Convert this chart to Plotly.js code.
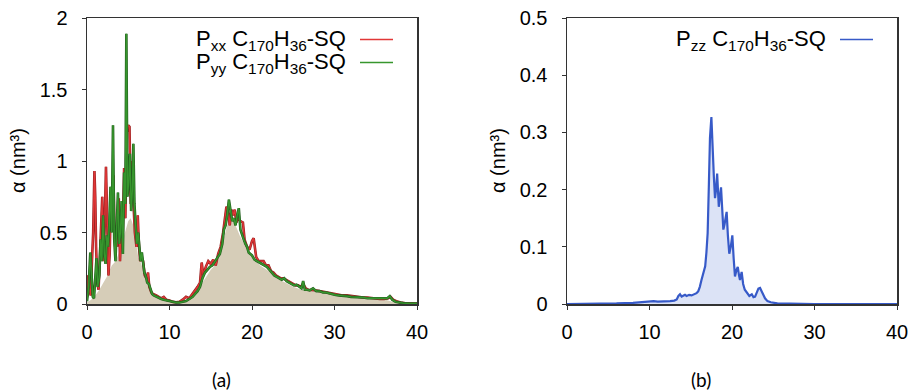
<!DOCTYPE html>
<html>
<head>
<meta charset="utf-8">
<script src="https://cdn.plot.ly/plotly-3.0.1.min.js"></script>
<style>html,body{margin:0;padding:0;background:#fff;}#chart{width:914px;height:392px;}</style>
</head>
<body>
<div id="chart"></div>
<script>
// ---- Panel (a): Pxx (red) ----
const xxX = [0.0,0.15,0.3,0.45,0.6,0.75,0.9,1.0,1.1,1.25,1.4,1.55,1.7,1.85,2.0,2.15,2.3,2.45,2.6,2.75,2.9,3.05,3.2,3.35,3.5,3.65,3.85,4.0,4.15,4.3,4.5,4.65,4.8,5.0,5.15,5.3,5.45,5.6,5.8,6.0,6.15,6.3,6.45,6.6,6.8,7.0,7.2,7.4,7.55,7.8,8.0,8.4,8.7,9.0,9.3,9.6,10.0,10.4,10.8,11.2,11.6,12.0,12.4,12.8,13.1,13.4,13.7,13.9,14.1,14.4,14.7,15.0,15.3,15.6,15.9,16.2,16.5,16.7,16.9,17.1,17.3,17.5,17.7,17.9,18.1,18.3,18.6,18.9,19.1,19.4,19.7,20.0,20.2,20.5,20.8,21.1,21.4,21.7,22.0,22.3,22.6,22.9,23.2,23.5,23.8,24.1,24.4,24.7,25.0,25.3,25.6,25.9,26.2,26.5,26.8,27.1,27.4,27.8,28.2,28.6,29.0,29.5,30.0,30.5,31.0,31.5,32.0,32.5,33.0,33.5,34.0,34.5,35.0,35.5,36.0,36.5,36.8,37.1,37.5,38.0,38.5,39.0,40.0];
const xxY = [0.05,0.2,0.1,0.06,0.3,0.5,0.93,0.75,0.4,0.15,0.1,0.35,0.6,0.75,0.3,0.55,0.96,0.5,0.2,0.35,0.75,0.6,0.9,0.45,0.55,0.4,0.74,0.3,0.5,0.4,0.95,0.6,1.2,1.25,1.24,0.7,1.0,0.75,0.5,0.4,0.62,0.4,0.3,0.32,0.3,0.2,0.18,0.22,0.12,0.08,0.07,0.06,0.05,0.04,0.05,0.03,0.025,0.015,0.012,0.015,0.03,0.05,0.04,0.07,0.09,0.12,0.15,0.29,0.2,0.26,0.3,0.28,0.31,0.27,0.35,0.4,0.5,0.6,0.68,0.65,0.55,0.66,0.62,0.66,0.57,0.6,0.58,0.57,0.45,0.4,0.38,0.44,0.46,0.33,0.3,0.3,0.3,0.27,0.27,0.23,0.22,0.2,0.19,0.18,0.18,0.17,0.16,0.15,0.14,0.13,0.13,0.12,0.14,0.11,0.1,0.1,0.1,0.095,0.09,0.085,0.08,0.075,0.07,0.065,0.06,0.06,0.055,0.05,0.05,0.045,0.045,0.04,0.04,0.035,0.035,0.04,0.05,0.03,0.02,0.01,0.006,0.004,0.003];

// ---- Panel (a): Pyy (green) ----
const yyX = [0.0,0.2,0.4,0.55,0.7,0.85,1.0,1.15,1.3,1.5,1.65,1.8,1.95,2.1,2.25,2.4,2.55,2.7,2.85,3.0,3.15,3.3,3.45,3.6,3.75,3.9,4.05,4.2,4.35,4.5,4.65,4.77,4.9,5.05,5.2,5.35,5.5,5.62,5.75,5.9,6.05,6.2,6.35,6.5,6.65,6.8,6.95,7.1,7.3,7.5,7.7,7.9,8.1,8.4,8.7,9.0,9.3,9.6,10.0,10.4,10.8,11.2,11.6,12.0,12.4,12.8,13.1,13.4,13.7,14.0,14.3,14.6,14.9,15.2,15.5,15.8,16.1,16.4,16.6,16.8,17.0,17.2,17.4,17.6,17.8,18.0,18.2,18.4,18.6,18.8,19.0,19.2,19.4,19.6,19.8,20.0,20.3,20.6,20.9,21.2,21.5,21.8,22.1,22.4,22.7,23.0,23.3,23.6,23.9,24.2,24.5,24.8,25.1,25.4,25.7,26.0,26.2,26.4,26.7,27.0,27.4,27.8,28.2,28.6,29.0,29.5,30.0,30.5,31.0,31.5,32.0,32.5,33.0,33.5,34.0,34.5,35.0,35.5,36.0,36.4,36.7,37.0,37.4,37.8,38.3,39.0,40.0];
const yyY = [0.02,0.12,0.36,0.15,0.05,0.04,0.18,0.32,0.12,0.2,0.45,0.3,0.62,0.35,0.28,0.48,0.4,0.55,0.82,0.5,1.25,0.45,0.3,0.55,0.78,0.42,0.5,0.72,0.35,0.92,0.7,1.89,0.75,0.85,1.05,0.65,0.8,1.12,0.7,0.55,0.42,0.5,0.36,0.3,0.36,0.3,0.22,0.2,0.15,0.14,0.1,0.07,0.06,0.05,0.04,0.035,0.03,0.025,0.02,0.012,0.01,0.01,0.015,0.02,0.035,0.05,0.07,0.09,0.12,0.18,0.22,0.24,0.26,0.27,0.3,0.33,0.35,0.42,0.52,0.55,0.62,0.73,0.65,0.58,0.6,0.55,0.62,0.67,0.52,0.48,0.45,0.42,0.4,0.36,0.35,0.34,0.31,0.3,0.29,0.28,0.27,0.26,0.24,0.22,0.2,0.19,0.18,0.17,0.18,0.16,0.15,0.14,0.13,0.135,0.12,0.11,0.16,0.1,0.1,0.095,0.11,0.09,0.09,0.08,0.08,0.07,0.065,0.06,0.06,0.055,0.05,0.05,0.045,0.045,0.04,0.04,0.037,0.035,0.035,0.04,0.055,0.03,0.015,0.009,0.006,0.004,0.003];

// ---- Panel (a): shaded area ----
const fillX = [0,0.5,1.0,1.5,2.0,2.5,3.0,3.5,4.0,4.5,5.0,5.3,5.6,5.9,6.2,6.6,7.0,7.5,8.0,8.5,9,9.5,10,10.5,11,11.5,12,12.5,13,13.5,14,14.5,15,15.5,16,16.5,17,17.5,18,18.5,19,19.5,20,21,22,23,24,25,26,27,28,29,30,31,32,33,34,35,36,37,38,39,40];
const fillY = [0.01,0.03,0.06,0.1,0.15,0.2,0.27,0.3,0.38,0.48,0.58,0.6,0.55,0.45,0.33,0.28,0.18,0.12,0.07,0.05,0.04,0.03,0.02,0.01,0.01,0.012,0.02,0.035,0.06,0.1,0.15,0.2,0.24,0.27,0.32,0.44,0.55,0.6,0.55,0.48,0.42,0.37,0.33,0.27,0.23,0.18,0.15,0.12,0.1,0.09,0.08,0.07,0.06,0.055,0.05,0.045,0.04,0.035,0.033,0.015,0.006,0.004,0.003];

// ---- Panel (b): Pzz (blue) ----
const zzX = [0,2,4,6,8,9,10,10.5,11,11.5,12,12.5,13.0,13.3,13.5,13.7,13.9,14.1,14.3,14.5,14.8,15.1,15.4,15.7,15.9,16.1,16.3,16.6,16.75,16.9,17.05,17.2,17.33,17.5,17.65,17.8,17.94,18.07,18.2,18.4,18.55,18.67,18.8,18.95,19.1,19.35,19.5,19.67,19.85,20.04,20.2,20.36,20.55,20.7,20.85,20.97,21.17,21.35,21.55,21.8,22.1,22.4,22.6,22.8,23.0,23.2,23.4,23.6,23.8,24.0,24.3,24.7,25.5,27,30,40];
const zzY = [0,0,0.0005,0.001,0.002,0.003,0.004,0.005,0.004,0.004,0.004,0.005,0.006,0.008,0.014,0.017,0.013,0.015,0.016,0.014,0.016,0.015,0.017,0.019,0.022,0.03,0.042,0.06,0.066,0.09,0.124,0.21,0.29,0.327,0.26,0.223,0.185,0.2,0.228,0.17,0.19,0.204,0.17,0.13,0.14,0.161,0.12,0.088,0.1,0.12,0.08,0.048,0.06,0.065,0.05,0.042,0.056,0.035,0.025,0.019,0.014,0.017,0.012,0.013,0.02,0.027,0.028,0.022,0.016,0.01,0.005,0.003,0.001,0.0005,0,0];

const xTicks = [0,10,20,30,40];
const legendXX = 'P<sub>xx</sub> C<sub>170</sub>H<sub>36</sub>-SQ';
const legendYY = 'P<sub>yy</sub> C<sub>170</sub>H<sub>36</sub>-SQ';
const legendZZ = 'P<sub>zz</sub> C<sub>170</sub>H<sub>36</sub>-SQ';
const yTitle = 'α (nm³)';
const captions = ['(a)', '(b)'];

const W = 914, H = 392;
const px = v => v / W;
const py = v => (H - v) / H;

const RED = 'rgb(225,55,55)';
const GREEN = 'rgb(55,150,45)';
const BLUE = 'rgb(55,90,200)';
const TAN = 'rgb(214,205,184)';
const LBLUE = 'rgb(220,227,246)';
const SANS = 'Liberation Sans, Arial, sans-serif';

const traces = [
  {x: fillX, y: fillY, xaxis:'x', yaxis:'y', mode:'lines', line:{width:0, color:TAN}, fill:'tozeroy', fillcolor:TAN, hoverinfo:'skip'},
  {x: xxX, y: xxY, xaxis:'x', yaxis:'y', mode:'lines', line:{width:2.6, color:'rgb(150,35,35)'}, hoverinfo:'skip'},
  {x: xxX, y: xxY, xaxis:'x', yaxis:'y', mode:'lines', name:'Pxx', line:{width:1.4, color:RED}},
  {x: yyX, y: yyY, xaxis:'x', yaxis:'y', mode:'lines', line:{width:2.6, color:'rgb(35,95,30)'}, hoverinfo:'skip'},
  {x: yyX, y: yyY, xaxis:'x', yaxis:'y', mode:'lines', name:'Pyy', line:{width:1.4, color:GREEN}},
  {x: zzX, y: zzY, xaxis:'x2', yaxis:'y2', mode:'lines', name:'Pzz', line:{width:2.2, color:BLUE}, fill:'tozeroy', fillcolor:LBLUE}
];

const tickFont = {family:SANS, size:20, color:'#000'};
const axisCommon = {
  showgrid:false, zeroline:false, showline:true, mirror:true, linecolor:'#333', linewidth:1.5,
  ticks:'outside', ticklen:4, tickcolor:'#333', tickfont:tickFont, fixedrange:true
};
const legFont = {family:SANS, size:22, color:'#000'};

const layout = {
  width: W, height: H,
  margin: {l:0, r:0, t:0, b:0},
  paper_bgcolor:'#fff', plot_bgcolor:'#fff',
  showlegend:false,
  xaxis: Object.assign({}, axisCommon, {domain:[px(87), px(417)], range:[0,40], tickvals:xTicks, ticklabelstandoff:5, anchor:'y'}),
  yaxis: Object.assign({}, axisCommon, {domain:[py(304), py(18)], range:[0,2], dtick:0.5, ticklabelstandoff:10, anchor:'x'}),
  xaxis2: Object.assign({}, axisCommon, {domain:[px(567), px(897)], range:[0,40], tickvals:xTicks, ticklabelstandoff:5, anchor:'y2'}),
  yaxis2: Object.assign({}, axisCommon, {domain:[py(304), py(18)], range:[0,0.5], dtick:0.1, ticklabelstandoff:10, anchor:'x2'}),
  annotations: [
    {xref:'paper', yref:'paper', x:px(348), y:py(40), xanchor:'right', yanchor:'middle', text:legendXX, showarrow:false, font:legFont},
    {xref:'paper', yref:'paper', x:px(348), y:py(63), xanchor:'right', yanchor:'middle', text:legendYY, showarrow:false, font:legFont},
    {xref:'paper', yref:'paper', x:px(828), y:py(40), xanchor:'right', yanchor:'middle', text:legendZZ, showarrow:false, font:legFont},
    {xref:'paper', yref:'paper', x:px(18), y:py(161), xanchor:'center', yanchor:'middle', text:yTitle, textangle:-90, showarrow:false, font:{family:SANS, size:20, color:'#000'}},
    {xref:'paper', yref:'paper', x:px(498), y:py(161), xanchor:'center', yanchor:'middle', text:yTitle, textangle:-90, showarrow:false, font:{family:SANS, size:20, color:'#000'}},
    {xref:'paper', yref:'paper', x:px(221), y:py(379), xanchor:'center', yanchor:'middle', text:captions[0], showarrow:false, font:{family:'Lato, Open Sans, sans-serif', size:19, color:'#000'}},
    {xref:'paper', yref:'paper', x:px(701), y:py(379), xanchor:'center', yanchor:'middle', text:captions[1], showarrow:false, font:{family:'Lato, Open Sans, sans-serif', size:19, color:'#000'}}
  ],
  shapes: [
    {type:'line', xref:'paper', yref:'paper', x0:px(360), x1:px(393), y0:py(39.5), y1:py(39.5), line:{color:RED, width:1.5}},
    {type:'line', xref:'paper', yref:'paper', x0:px(360), x1:px(393), y0:py(62.5), y1:py(62.5), line:{color:GREEN, width:1.5}},
    {type:'line', xref:'paper', yref:'paper', x0:px(840), x1:px(873), y0:py(39.5), y1:py(39.5), line:{color:BLUE, width:1.5}}
  ]
};

Plotly.newPlot('chart', traces, layout, {staticPlot:true, displayModeBar:false});
</script>
</body>
</html>
